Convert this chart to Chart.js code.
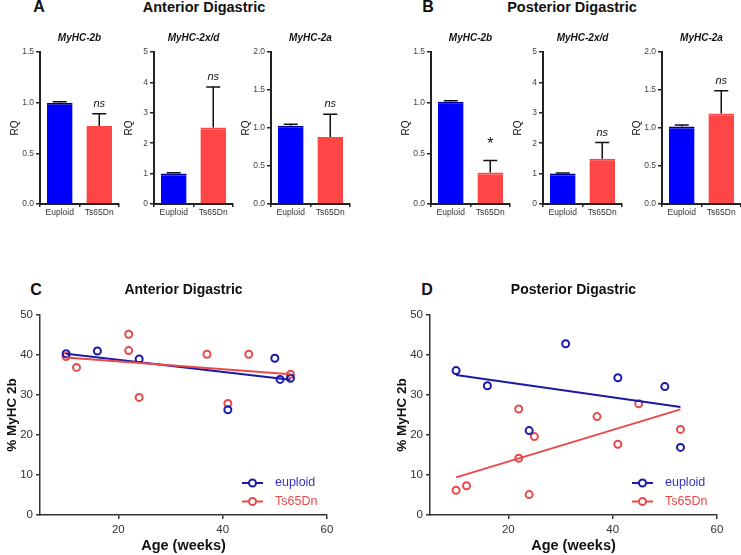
<!DOCTYPE html>
<html>
<head>
<meta charset="utf-8">
<script src="https://cdn.jsdelivr.net/npm/chart.js@4.4.1/dist/chart.umd.min.js"></script>
<style>
  body { margin: 0; background: #fff; width: 741px; height: 555px; position: relative; overflow: hidden;
         font-family: "Liberation Sans", Arial, sans-serif; }
  canvas { position: absolute; }
  .lbl { position: absolute; font-weight: bold; color: #111; white-space: nowrap; line-height: 1;
         transform: translate(-50%, -50%); }
</style>
</head>
<body>
<div class="lbl" style="left:39px;top:7px;font-size:16px">A</div>
<div class="lbl" style="left:204px;top:7px;font-size:14.5px">Anterior Digastric</div>
<div class="lbl" style="left:428px;top:7px;font-size:16px">B</div>
<div class="lbl" style="left:572px;top:7px;font-size:14.5px">Posterior Digastric</div>
<div class="lbl" style="left:36px;top:290px;font-size:16px">C</div>
<div class="lbl" style="left:427px;top:290px;font-size:16px">D</div>

<canvas id="a1" width="125" height="198"></canvas>
<canvas id="a2" width="125" height="198"></canvas>
<canvas id="a3" width="125" height="198"></canvas>
<canvas id="b1" width="125" height="198"></canvas>
<canvas id="b2" width="125" height="198"></canvas>
<canvas id="b3" width="125" height="198"></canvas>
<canvas id="c" width="345" height="285"></canvas>
<canvas id="d" width="345" height="285"></canvas>

<script>
// groups
const groups = ["Euploid", "Ts65Dn"];

// relative quantity (mean) and SEM, anterior digastric
const ant2b = [1.0, 0.77];
const ant2bSem = [0.01, 0.12];
const ant2xd = [1.0, 2.52];
const ant2xdSem = [0.03, 1.33];
const ant2a = [1.03, 0.88];
const ant2aSem = [0.02, 0.30];

// posterior digastric
const post2b = [1.01, 0.31];
const post2bSem = [0.01, 0.12];
const post2xd = [1.0, 1.49];
const post2xdSem = [0.02, 0.53];
const post2a = [1.02, 1.19];
const post2aSem = [0.02, 0.30];

// % MyHC 2b vs age
const ageTicks = [20, 40, 60];
const antEuAge = [10, 16, 24, 41, 50, 51, 53];
const antEuPct = [40.3, 41.0, 39.0, 26.3, 39.2, 33.9, 34.2];
const antTsAge = [10, 12, 22, 22, 24, 37, 41, 45, 53];
const antTsPct = [39.6, 36.9, 45.2, 41.1, 29.4, 40.2, 27.9, 40.2, 35.2];
const postEuAge = [10, 16, 24, 31, 41, 50, 53];
const postEuPct = [36.1, 32.3, 21.1, 42.8, 34.3, 32.1, 16.9];
const postTsAge = [10, 12, 22, 22, 24, 25, 37, 41, 45, 53];
const postTsPct = [6.2, 7.3, 26.5, 14.2, 5.1, 19.6, 24.6, 17.7, 27.8, 21.4];

// regression lines (end points)
const fitAge = [10, 53];
const antEuFit = [40.3, 33.8];
const antTsFit = [39.4, 35.2];
const postEuFit = [35.0, 27.0];
const postTsFit = [9.4, 26.4];

Chart.defaults.font.family = '"Liberation Sans", Arial, sans-serif';
Chart.defaults.animation = false;

const BLUE = "#0000ff";
const RED = "#ff4646";
const NAVY = "#1a1aa6";
const SALMON = "#e84a4a";

// error bars + significance labels
const errBars = {
  id: "errBars",
  afterDatasetsDraw(chart, args, opts) {
    const ctx = chart.ctx;
    const y = chart.scales.y;
    const vals = chart.data.datasets[0].data;
    ctx.save();
    ctx.strokeStyle = "#111";
    ctx.lineWidth = 1.5;
    chart.getDatasetMeta(0).data.forEach((bar, i) => {
      const top = y.getPixelForValue(vals[i] + opts.sems[i]);
      const base = y.getPixelForValue(vals[i]);
      ctx.beginPath();
      ctx.moveTo(bar.x, base);
      ctx.lineTo(bar.x, top);
      ctx.moveTo(bar.x - 7, top);
      ctx.lineTo(bar.x + 7, top);
      ctx.stroke();
      const mark = opts.marks[i];
      if (mark) {
        ctx.fillStyle = "#111";
        ctx.textAlign = "center";
        ctx.textBaseline = "middle";
        if (mark === "*") {
          ctx.font = "16px 'Liberation Sans', Arial";
          ctx.fillText(mark, bar.x, top - 16);
        } else {
          ctx.font = "italic 11px 'Liberation Sans', Arial";
          ctx.fillText(mark, bar.x, top - 10);
        }
      }
    });
    ctx.restore();
  },
};

function barChart(id, x0, title, means, sems, yMax, yStep, yDec, marks) {
  const cv = document.getElementById(id);
  cv.style.left = x0 - 40 + "px";
  cv.style.top = "28px";
  return new Chart(cv, {
    type: "bar",
    data: {
      labels: groups,
      datasets: [
        {
          data: means,
          backgroundColor: [BLUE, RED],
          borderColor: ["#00009a", RED],
          borderWidth: { top: 2, left: 0, right: 0, bottom: 0 },
          borderSkipped: false,
          barPercentage: 0.65,
          categoryPercentage: 1,
        },
      ],
    },
    options: {
      responsive: false,
      layout: { padding: { right: 6 } },
      plugins: {
        legend: { display: false },
        tooltip: { enabled: false },
        title: {
          display: true,
          text: title,
          fullSize: false,
          color: "#111",
          font: { size: 10, style: "italic", weight: "bold" },
          padding: { top: 4, bottom: 8 },
        },
        errBars: { sems: sems, marks: marks },
      },
      scales: {
        x: {
          grid: { drawOnChartArea: false, drawTicks: true, tickLength: 3, color: "#222", lineWidth: 1.5 },
          border: { color: "#222", width: 2 },
          ticks: { font: { size: 8.5 }, color: "#333", padding: 1, maxRotation: 0 },
          afterFit: (s) => { s.height = 22; },
        },
        y: {
          min: 0,
          max: yMax,
          ticks: { stepSize: yStep, callback: (v) => v.toFixed(yDec), font: { size: 8.5 }, color: "#444", padding: 2 },
          grid: { drawOnChartArea: false, drawTicks: true, tickLength: 4, color: "#222", lineWidth: 1.5 },
          border: { color: "#222", width: 2 },
          title: { display: true, text: "RQ", color: "#111", font: { size: 10 }, padding: { top: 9, bottom: 0 } },
          afterFit: (s) => { s.width = 40; },
        },
      },
    },
    plugins: [errBars],
  });
}

barChart("a1", 40, "MyHC-2b", ant2b, ant2bSem, 1.5, 0.5, 1, ["", "ns"]);
barChart("a2", 154, "MyHC-2x/d", ant2xd, ant2xdSem, 5, 1, 0, ["", "ns"]);
barChart("a3", 271, "MyHC-2a", ant2a, ant2aSem, 2, 0.5, 1, ["", "ns"]);
barChart("b1", 431, "MyHC-2b", post2b, post2bSem, 1.5, 0.5, 1, ["", "*"]);
barChart("b2", 543, "MyHC-2x/d", post2xd, post2xdSem, 5, 1, 0, ["", "ns"]);
barChart("b3", 662, "MyHC-2a", post2a, post2aSem, 2, 0.5, 1, ["", "ns"]);

// legend drawn inside the plot, bottom right
const innerLegend = {
  id: "innerLegend",
  afterDraw(chart) {
    const ctx = chart.ctx;
    const area = chart.chartArea;
    const items = chart.data.datasets.filter((d) => d.type !== "line");
    ctx.save();
    items.forEach((d, i) => {
      const y = area.bottom - 32 + i * 18.5;
      const x = area.right - 85;
      ctx.strokeStyle = d.borderColor;
      ctx.lineWidth = 2;
      ctx.beginPath();
      ctx.moveTo(x, y);
      ctx.lineTo(x + 21, y);
      ctx.stroke();
      ctx.fillStyle = "#fff";
      ctx.beginPath();
      ctx.arc(x + 10.5, y, 3.5, 0, Math.PI * 2);
      ctx.fill();
      ctx.stroke();
      ctx.fillStyle = d.legendText;
      ctx.font = "12.5px 'Liberation Sans', Arial";
      ctx.textAlign = "left";
      ctx.textBaseline = "middle";
      ctx.fillText(d.label, area.right - 52, y);
    });
    ctx.restore();
  },
};

function pts(xs, ys) {
  return xs.map((x, i) => ({ x: x, y: ys[i] }));
}

function scatterChart(id, left, title, euAge, euPct, tsAge, tsPct, euFit, tsFit) {
  const cv = document.getElementById(id);
  cv.style.left = left + "px";
  cv.style.top = "270px";
  const fitLine = (ys, col) => ({
    type: "line",
    data: pts(fitAge, ys),
    borderColor: col,
    borderWidth: 2,
    pointRadius: 0,
    fill: false,
  });
  return new Chart(cv, {
    type: "scatter",
    data: {
      datasets: [
        fitLine(tsFit, SALMON),
        fitLine(euFit, NAVY),
        {
          label: "euploid",
          data: pts(euAge, euPct),
          borderColor: NAVY,
          backgroundColor: "rgba(0,0,0,0)",
          legendText: "#3434cc",
          pointRadius: 3.5,
          borderWidth: 2,
        },
        {
          label: "Ts65Dn",
          data: pts(tsAge, tsPct),
          borderColor: SALMON,
          backgroundColor: "rgba(0,0,0,0)",
          legendText: SALMON,
          pointRadius: 3.5,
          borderWidth: 2,
        },
      ],
    },
    options: {
      responsive: false,
      layout: { padding: { right: 18 } },
      plugins: {
        legend: { display: false },
        tooltip: { enabled: false },
        title: {
          display: true,
          text: title,
          fullSize: false,
          color: "#111",
          font: { size: 14, weight: "bold" },
          padding: { top: 11.6, bottom: 16.6 },
        },
      },
      scales: {
        x: {
          type: "linear",
          min: 5,
          max: 60,
          afterBuildTicks: (s) => { s.ticks = ageTicks.map((v) => ({ value: v })); },
          grid: { drawOnChartArea: false, drawTicks: true, tickLength: 4, color: "#333", lineWidth: 1.5 },
          border: { color: "#333", width: 1.5 },
          ticks: { font: { size: 11.5 }, color: "#333", padding: 4, maxRotation: 0 },
          title: { display: true, text: "Age (weeks)", color: "#111", font: { size: 14.5, weight: "bold" }, padding: { top: 0, bottom: 0.3 } },
          afterFit: (s) => { s.height = 40; },
        },
        y: {
          min: 0,
          max: 50,
          ticks: { stepSize: 10, font: { size: 11.5 }, color: "#333", padding: 3 },
          grid: { drawOnChartArea: false, drawTicks: true, tickLength: 4, color: "#333", lineWidth: 1.5 },
          border: { color: "#333", width: 1.5 },
          title: { display: true, text: "% MyHC 2b", color: "#111", font: { size: 13.5, weight: "bold" }, padding: { top: 4, bottom: 0 } },
          afterFit: (s) => { s.width = 40; },
        },
      },
    },
    plugins: [innerLegend],
  });
}

scatterChart("c", 0, "Anterior Digastric", antEuAge, antEuPct, antTsAge, antTsPct, antEuFit, antTsFit);
scatterChart("d", 390, "Posterior Digastric", postEuAge, postEuPct, postTsAge, postTsPct, postEuFit, postTsFit);
</script>
</body>
</html>
